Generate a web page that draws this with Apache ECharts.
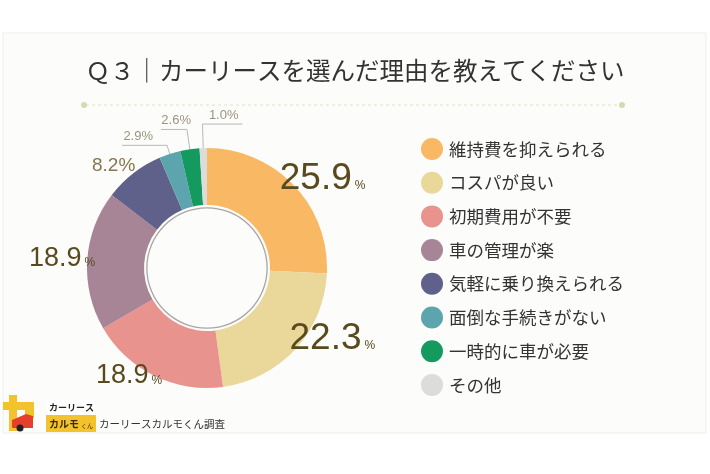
<!DOCTYPE html>
<html>
<head>
<meta charset="utf-8">
<script src="https://cdn.jsdelivr.net/npm/echarts@6/dist/echarts.min.js"></script>
<style>
  html, body { margin: 0; padding: 0; background: #ffffff; }
  #chart { width: 710px; height: 474px; }
</style>
</head>
<body>
<div id="chart"></div>
<script>
const categories = ['維持費を抑えられる', 'コスパが良い', '初期費用が不要', '車の管理が楽',
    '気軽に乗り換えられる', '面倒な手続きがない', '一時的に車が必要', 'その他'];
const shares = [25.9, 22.3, 18.9, 18.9, 8.2, 2.9, 2.6, 1.0];
const colors = ['#F8B864', '#EAD89B', '#E8938D', '#A88596', '#5F618A', '#5CA5AE', '#14995F', '#DCDCDC'];

const numFont = 'Liberation Sans';
const jpFont = 'Noto Sans CJK JP';

// label look per slice: big numbers with a small %, or small ones with leader lines
const labelKinds = ['big', 'big', 'mid', 'mid', 'small', 'tiny', 'tiny', 'tiny'];
const bigSize = { big: 37, mid: 27 };
const labelShift = [[-19, -6], [-11, -10], [13, 0], [13, -2], [7, -8]];
const tinyLines = [[9, 45, -31], [20, 26, -30], [24, -40, 4]];

function pct(p) {
    return p.value.toFixed(1);
}

function buildItem(name, i) {
    const kind = labelKinds[i];
    const item = { name: name, value: shares[i], itemStyle: { color: colors[i] } };
    if (kind === 'big' || kind === 'mid') {
        item.label = {
            formatter: p => '{n|' + pct(p) + '}{p|%}',
            rich: {
                n: { fontSize: bigSize[kind], fontFamily: numFont, color: '#58491f' },
                p: { fontSize: 12, fontFamily: numFont, color: '#58491f', padding: [bigSize[kind] * 0.35, 0, 0, 3] }
            }
        };
        item.labelLine = { show: false, length: 0, length2: 0 };
    } else if (kind === 'small') {
        item.label = { formatter: p => pct(p) + '%', fontSize: 19, fontFamily: numFont, color: '#85774f' };
        item.labelLine = { show: false, length: 0, length2: 0 };
    } else {
        const t = tinyLines[i - 5];
        // second empty line lifts the text above its leader line
        item.label = {
            formatter: p => '{t|' + pct(p) + '%}\n{g| }',
            distanceToLabelLine: t[2],
            rich: {
                t: { fontSize: 13, fontFamily: numFont, color: '#9a957f', lineHeight: 15 },
                g: { fontSize: 4, lineHeight: 18 }
            }
        };
        item.labelLine = { show: true, length: t[0], length2: t[1], lineStyle: { color: '#b9b9b4', width: 1 } };
    }
    return item;
}

const chart = echarts.init(document.getElementById('chart'), null, { renderer: 'canvas' });

chart.setOption({
    animation: false,
    backgroundColor: '#ffffff',
    title: {
        text: 'Ｑ３｜カーリースを選んだ理由を教えてください',
        left: 'center',
        top: 56,
        padding: 0,
        textStyle: { fontFamily: jpFont, fontSize: 24.5, fontWeight: 'normal', color: '#333333', lineHeight: 29 }
    },
    legend: {
        data: categories,
        orient: 'vertical',
        left: 421,
        top: 138,
        padding: 0,
        itemWidth: 22,
        itemHeight: 22,
        itemGap: 11.7,
        icon: 'circle',
        selectedMode: false,
        textStyle: { fontFamily: jpFont, fontSize: 17.5, color: '#333333', padding: [0, 0, 0, 1] }
    },
    graphic: [
        { type: 'rect', z: -10, shape: { x: 3, y: 33, width: 703, height: 400 },
          style: { fill: '#fcfcfa', stroke: '#efefea', lineWidth: 1 } },
        { type: 'line', shape: { x1: 86, y1: 105, x2: 620, y2: 105 },
          style: { stroke: '#dfe2c6', lineWidth: 1, lineDash: [3, 3] } },
        { type: 'circle', shape: { cx: 84, cy: 105, r: 3 }, style: { fill: '#d6dab0' } },
        { type: 'circle', shape: { cx: 622, cy: 105, r: 3 }, style: { fill: '#d6dab0' } },
        // logo
        { type: 'rect', shape: { x: 9, y: 395, width: 8, height: 36 }, style: { fill: '#F3C22C' } },
        { type: 'rect', shape: { x: 3, y: 402, width: 31, height: 8 }, style: { fill: '#F3C22C' } },
        { type: 'rect', shape: { x: 25, y: 402, width: 9, height: 16 }, style: { fill: '#F3C22C' } },
        { type: 'polygon', shape: { points: [[12, 428], [12, 420], [26, 414], [33, 416], [33, 428]] },
          style: { fill: '#E5402E' } },
        { type: 'circle', shape: { cx: 20, cy: 428, r: 3.5 }, style: { fill: '#222222' } },
        { type: 'rect', shape: { x: 46, y: 400, width: 50, height: 15 }, style: { fill: '#ffffff' } },
        { type: 'text', style: { x: 49, y: 408, text: 'カーリース', fontFamily: jpFont, fontSize: 9,
          fontWeight: 'bold', fill: '#222222', verticalAlign: 'middle' } },
        { type: 'rect', shape: { x: 46, y: 415, width: 50, height: 17 }, style: { fill: '#F3C22C' } },
        { type: 'text', style: { x: 49, y: 424, text: 'カルモ', fontFamily: jpFont, fontSize: 10,
          fontWeight: 'bold', fill: '#3a2a10', verticalAlign: 'middle' } },
        { type: 'text', style: { x: 81, y: 426, text: 'くん', fontFamily: jpFont, fontSize: 6,
          fill: '#3a2a10', verticalAlign: 'middle' } },
        { type: 'text', style: { x: 99, y: 424, text: 'カーリースカルモくん調査', fontFamily: jpFont, fontSize: 10.5,
          fill: '#333333', verticalAlign: 'middle' } }
    ],
    series: [
        {
            type: 'pie',
            center: [207, 268],
            radius: [63, 120],
            startAngle: 90,
            clockwise: true,
            avoidLabelOverlap: false,
            silent: true,
            label: { show: true, position: 'outside' },
            labelLine: { minTurnAngle: 30, maxSurfaceAngle: 180 },
            labelLayout: function (p) {
                const s = labelShift[p.dataIndex];
                return s ? { dx: s[0], dy: s[1] } : {};
            },
            data: categories.map(buildItem)
        },
        {
            type: 'pie',
            center: [207, 268],
            radius: [59.5, 60.8],
            silent: true,
            label: { show: false },
            labelLine: { show: false },
            itemStyle: { color: '#aaa5a5' },
            data: [{ name: 'ring', value: 1 }]
        }
    ]
});
</script>
</body>
</html>
